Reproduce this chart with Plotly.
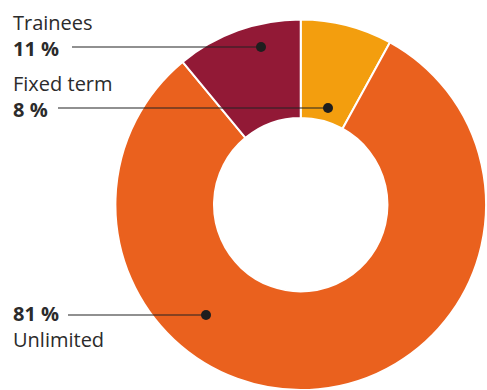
import plotly.graph_objects as go

# Employment contract shares (percent)
categories = ["Fixed term", "Unlimited", "Trainees"]
shares = [8, 81, 11]
colors = ["#F39E0E", "#EA611E", "#921936"]

W, H = 487, 390
TEXT = "#2b2b2b"
FONT = "Open Sans"
FONT_SIZE = 20
LINE_GAP = 1.3 * FONT_SIZE  # plotly's line spacing for multi-line text

fig = go.Figure(
    go.Pie(
        labels=categories,
        values=shares,
        hole=0.468,
        sort=False,
        direction="clockwise",
        rotation=0,
        marker=dict(colors=colors, line=dict(color="white", width=2)),
        textinfo="none",
        hoverinfo="label+percent",
        domain=dict(x=[0.235, 1.0], y=[0.0, 0.9503]),
        showlegend=False,
    )
)

def px_x(x):
    return x / W

def px_y(y):
    return 1 - y / H

# Callouts: name, value, name above value?, leader y, leader start x, dot x
callouts = [
    ("Trainees", "11 %", True, 47, 72, 261),
    ("Fixed term", "8 %", True, 108, 58, 328),
    ("Unlimited", "81 %", False, 315, 68, 206),
]

annotations = []
shapes = []
for name, value, name_first, line_y, x0, dot_x in callouts:
    if name_first:
        text = f"{name}<br><b>{value}</b>"
        center_y = line_y - LINE_GAP / 2 + 1
    else:
        text = f"<b>{value}</b><br>{name}"
        center_y = line_y + LINE_GAP / 2 - 2
    annotations.append(dict(
        x=px_x(11), y=px_y(center_y), xref="paper", yref="paper",
        xanchor="left", yanchor="middle", align="left", showarrow=False,
        text=text, font=dict(family=FONT, size=FONT_SIZE, color=TEXT),
    ))
    shapes.append(dict(
        type="line", xref="paper", yref="paper",
        x0=px_x(x0), x1=px_x(dot_x), y0=px_y(line_y), y1=px_y(line_y),
        line=dict(color="#222222", width=1.2),
    ))
    r = 5
    shapes.append(dict(
        type="circle", xref="paper", yref="paper",
        x0=px_x(dot_x - r), x1=px_x(dot_x + r),
        y0=px_y(line_y - r), y1=px_y(line_y + r),
        fillcolor="#1e1e1e", line=dict(width=0),
    ))

fig.update_layout(
    width=W, height=H,
    margin=dict(l=0, r=0, t=0, b=0),
    paper_bgcolor="white",
    plot_bgcolor="white",
    annotations=annotations,
    shapes=shapes,
)

fig.write_html("out.html")
